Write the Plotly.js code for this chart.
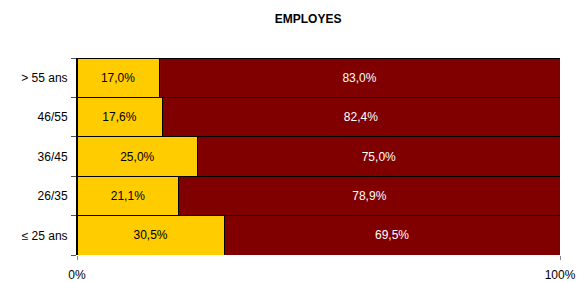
<!DOCTYPE html>
<html><head><meta charset="utf-8">
<script src="https://cdn.plot.ly/plotly-3.0.1.min.js"></script>
<style>body{margin:0;padding:0;background:#fff}#chart{width:577px;height:282px}</style>
</head><body><div id="chart"></div>
<script>
const categories = ["≤ 25 ans", "26/35", "36/45", "46/55", "> 55 ans"];
const yellowValues = [30.5, 21.1, 25.0, 17.6, 17.0];
const redValues = [69.5, 78.9, 75.0, 82.4, 83.0];
const xTickVals = [0, 100];
const xTickText = ["0%", "100%"];
const fmt = v => v.toFixed(1).replace('.', ',') + '%';

const common = {type: 'bar', orientation: 'h', y: categories, textposition: 'inside',
  insidetextanchor: 'middle', hoverinfo: 'none', cliponaxis: false};
const data = [
  Object.assign({}, common, {x: yellowValues, text: yellowValues.map(fmt),
    marker: {color: '#FFCC00', line: {color: '#000', width: 1}},
    textfont: {color: '#000', size: 12, family: 'Liberation Sans, Arial, sans-serif'}}),
  Object.assign({}, common, {x: redValues, text: redValues.map(fmt),
    marker: {color: '#800000', line: {color: '#000', width: 1}},
    textfont: {color: '#fff', size: 12, family: 'Liberation Sans, Arial, sans-serif'}})
];
const layout = {
  width: 577, height: 282, barmode: 'stack', bargap: 0, showlegend: false,
  margin: {l: 77, r: 17, t: 58, b: 27, pad: 0},
  paper_bgcolor: '#fff', plot_bgcolor: '#fff',
  font: {family: 'Liberation Sans, Arial, sans-serif', size: 12, color: '#000'},
  title: {text: '<b>EMPLOYES</b>', x: 0.534, xanchor: 'center', y: 0.935, yanchor: 'middle',
    font: {size: 12, family: 'Liberation Sans Narrow, Liberation Sans, Arial, sans-serif'}},
  xaxis: {range: [0, 100], tickvals: xTickVals, ticktext: xTickText, showgrid: true,
    gridcolor: '#888', gridwidth: 1, zeroline: false, showline: false,
    ticks: 'outside', ticklen: 4, tickcolor: '#888', ticklabelstandoff: 5, fixedrange: true},
  yaxis: {categoryorder: 'array', categoryarray: categories, showline: true, linecolor: '#000',
    linewidth: 1, ticks: 'outside', tickson: 'boundaries', ticklen: 5, tickcolor: '#555',
    showgrid: false, ticklabelstandoff: 6, fixedrange: true}
};
Plotly.newPlot('chart', data, layout, {staticPlot: true});
</script></body></html>
